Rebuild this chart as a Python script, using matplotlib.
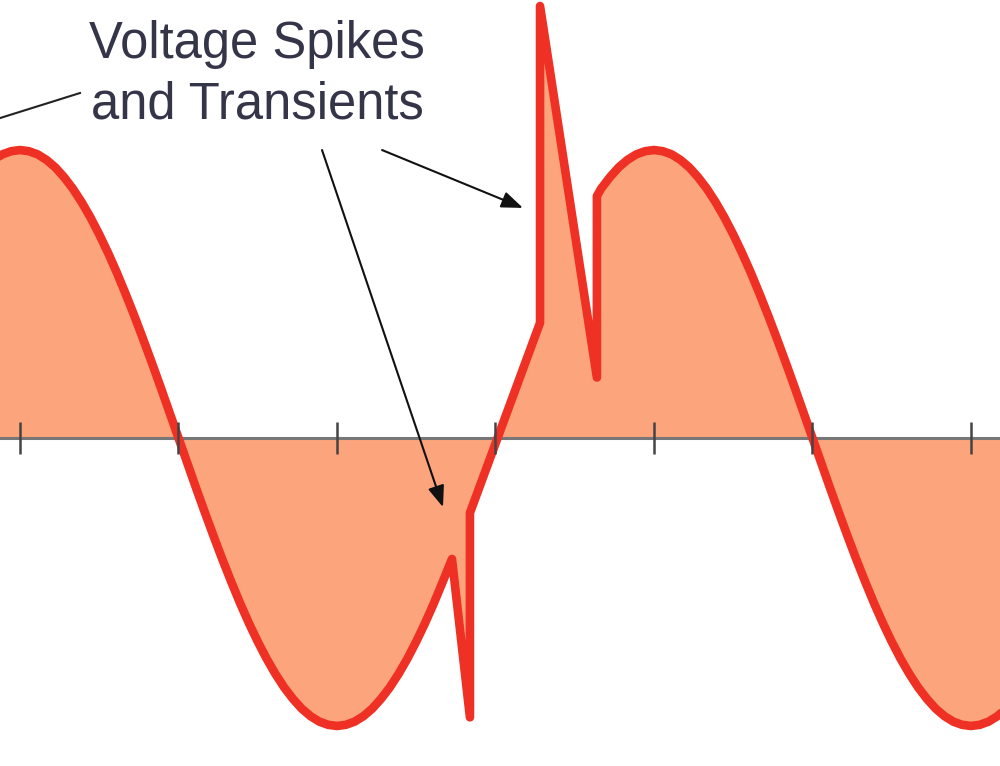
import matplotlib
matplotlib.use("Agg")
import matplotlib.pyplot as plt

# phase angle (degrees) and normalised voltage
angle = [-20, -15, -10, -5, 0, 5, 10, 15, 20, 25, 30, 35, 40, 45, 50, 55, 60, 65,
         70, 75, 80, 85, 90, 95, 100, 105, 110, 115, 120, 125, 130, 135, 140, 145,
         150, 155, 160, 165, 170, 175, 180, 185, 190, 195, 200, 205, 210, 215, 220,
         225, 230, 235, 240, 245.3,
         255.5, 255.5, 295.3, 295.3, 327.6, 327.6,
         330, 335, 340, 345, 350, 355, 360, 365, 370, 375, 380, 385, 390, 395, 400,
         405, 410, 415, 420, 425, 430, 435, 440, 445, 450, 455, 460, 465, 470, 475,
         480, 485, 490, 495, 500, 505, 510, 515, 520, 525, 530, 535, 540, 545, 550,
         555, 560]
voltage = [0.940, 0.966, 0.985, 0.996, 1.000, 0.996, 0.985, 0.966, 0.940, 0.906,
           0.866, 0.819, 0.766, 0.707, 0.643, 0.574, 0.500, 0.423, 0.342, 0.259,
           0.174, 0.087, 0.000, -0.087, -0.174, -0.259, -0.342, -0.423, -0.500,
           -0.574, -0.643, -0.707, -0.766, -0.819, -0.866, -0.906, -0.940, -0.966,
           -0.985, -0.996, -1.000, -0.996, -0.985, -0.966, -0.940, -0.906, -0.866,
           -0.819, -0.766, -0.707, -0.643, -0.574, -0.500, -0.420,
           -0.970, -0.260, 0.400, 1.500, 0.210, 0.840,
           0.866, 0.906, 0.940, 0.966, 0.985, 0.996, 1.000, 0.996, 0.985, 0.966,
           0.940, 0.906, 0.866, 0.819, 0.766, 0.707, 0.643, 0.574, 0.500, 0.423,
           0.342, 0.259, 0.174, 0.087, 0.000, -0.087, -0.174, -0.259, -0.342,
           -0.423, -0.500, -0.574, -0.643, -0.707, -0.766, -0.819, -0.866, -0.906,
           -0.940, -0.966, -0.985, -0.996, -1.000, -0.996, -0.985, -0.966, -0.940]
tick_angles = [0, 90, 180, 270, 360, 450, 540]

label_lines = ["Voltage Spikes", "and Transients"]
label_x = 134.6
label_y = [1.319, 1.111]

# annotation lines: (start, end, has_head)
pointer_lines = [((34.07, 1.198), (-11.36, 1.111), False),
                 ((171.5, 1.0), (240.2, -0.24), True),
                 ((205.6, 1.0), (285.6, 0.799), True)]

fig = plt.figure(figsize=(10, 7.66), dpi=100)
ax = fig.add_axes([0, 0, 1, 1])
ax.set_xlim(-11.36, 556.5)
ax.set_ylim(-1.139, 1.521)
ax.axis("off")

ax.fill_between(angle, voltage, 0, color="#FCA47C", linewidth=0, zorder=1)
ax.axhline(0, color="#777777", linewidth=2.2, zorder=2)
ax.plot(angle, voltage, color="#EE3124", linewidth=6.2,
        solid_joinstyle="round", solid_capstyle="round", zorder=3)
ax.vlines(tick_angles, -0.055, 0.055, color="#444444", linewidth=1.8, zorder=4)

for txt, yy in zip(label_lines, label_y):
    ax.text(label_x, yy, txt, ha="center", va="baseline", fontsize=36.5,
            family="Liberation Sans", color="#35354a", zorder=5)

for start, end, head in pointer_lines:
    if head:
        ax.annotate("", xy=end, xytext=start,
                    arrowprops=dict(arrowstyle="-|>,head_length=1.3,head_width=0.5",
                                    color="#111111", linewidth=1.5,
                                    shrinkA=0, shrinkB=0), zorder=5)
    else:
        ax.plot([start[0], end[0]], [start[1], end[1]], color="#222222",
                linewidth=1.5, zorder=5)

fig.savefig("out.png", dpi=100)
